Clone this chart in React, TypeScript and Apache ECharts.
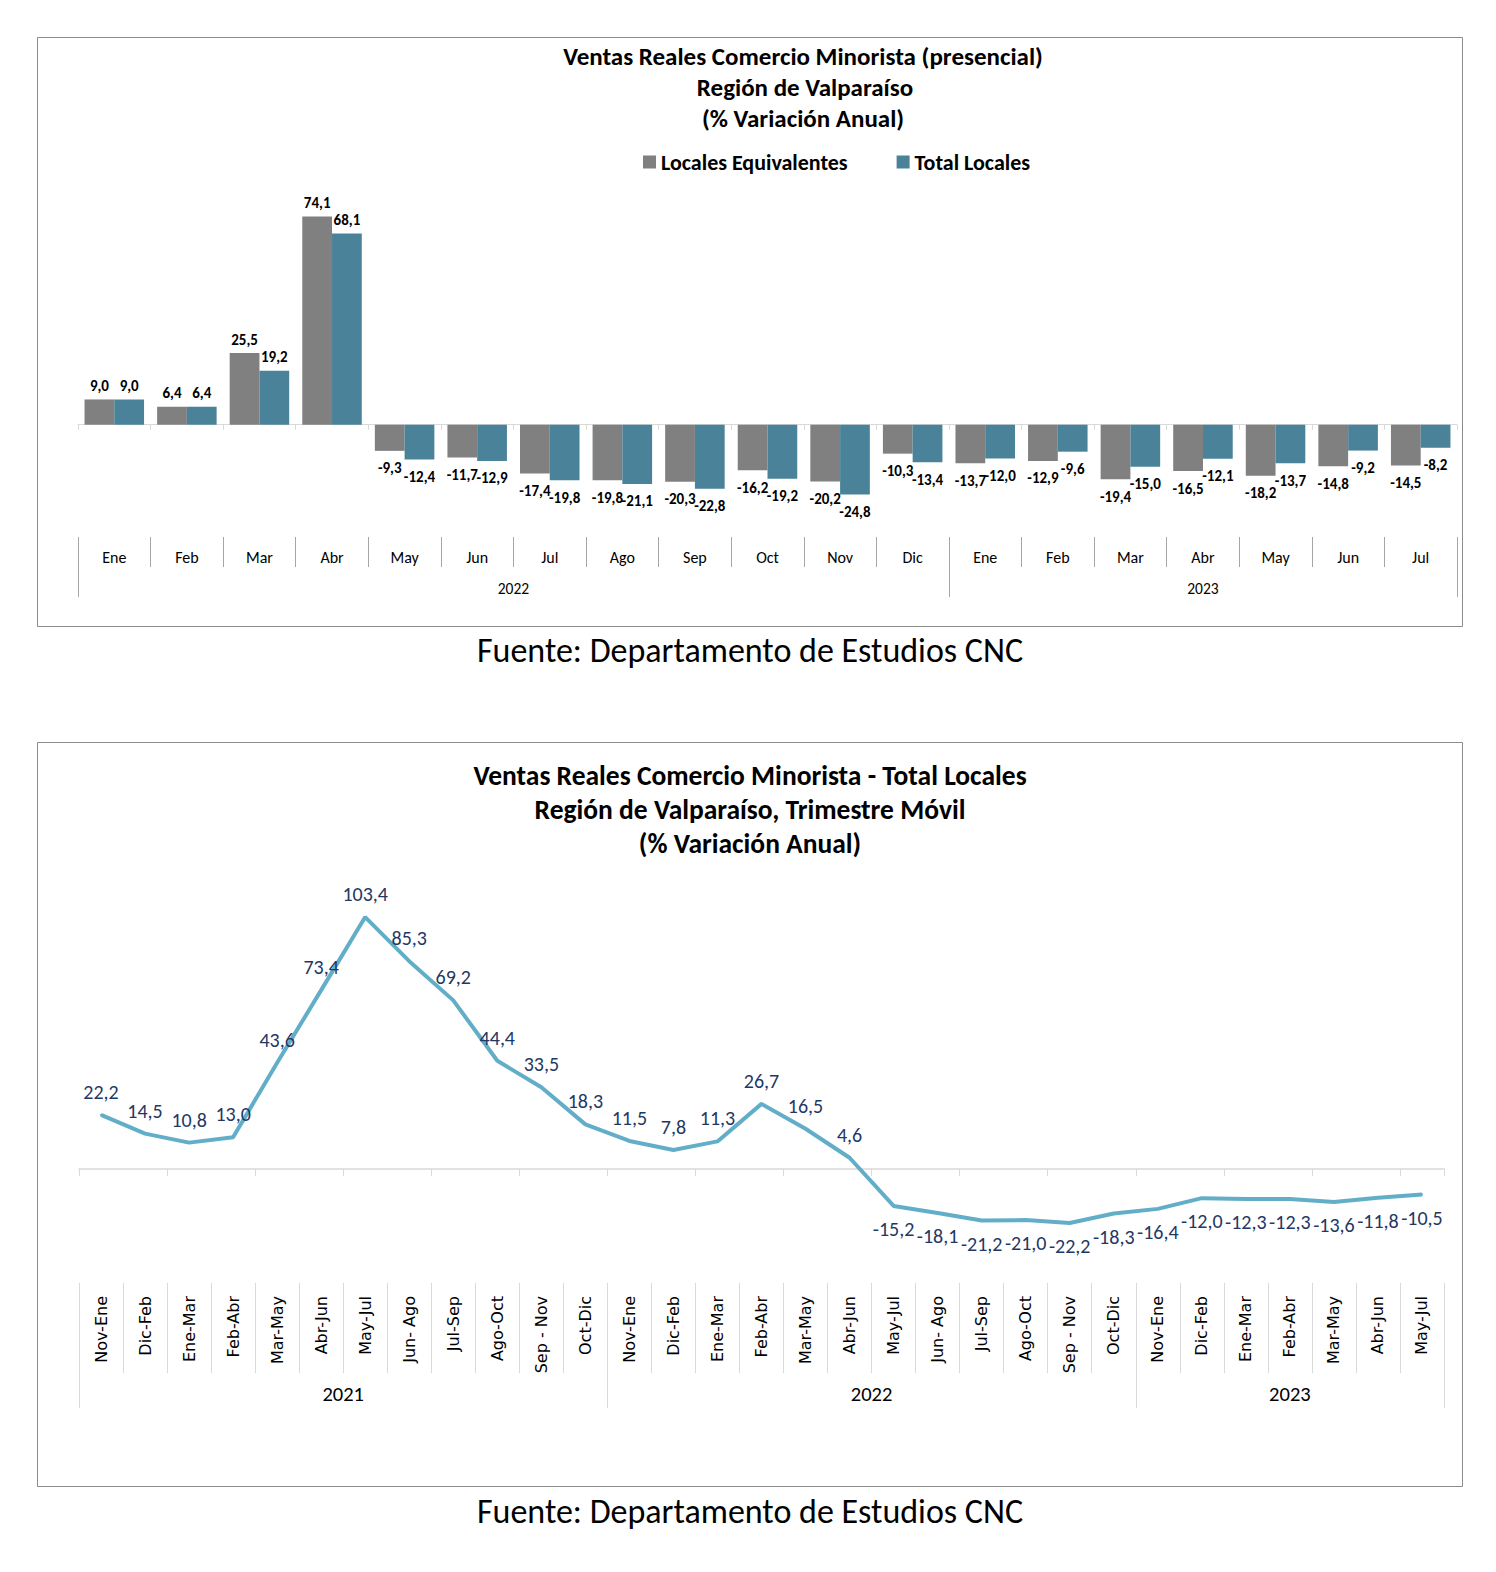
import React, { useEffect, useRef } from "react";
import * as echarts from "echarts";

const months = ["Ene", "Feb", "Mar", "Abr", "May", "Jun", "Jul", "Ago", "Sep", "Oct", "Nov", "Dic", "Ene", "Feb", "Mar", "Abr", "May", "Jun", "Jul"];
const monthYearLabels = ["2022", "2023"];
const monthYearCounts = [12, 7];
const localesEquivalentes = [9.0, 6.4, 25.5, 74.1, -9.3, -11.7, -17.4, -19.8, -20.3, -16.2, -20.2, -10.3, -13.7, -12.9, -19.4, -16.5, -18.2, -14.8, -14.5];
const totalLocales = [9.0, 6.4, 19.2, 68.1, -12.4, -12.9, -19.8, -21.1, -22.8, -19.2, -24.8, -13.4, -12.0, -9.6, -15.0, -12.1, -13.7, -9.2, -8.2];

const trimestres = [
  "Nov-Ene", "Dic-Feb", "Ene-Mar", "Feb-Abr", "Mar-May", "Abr-Jun", "May-Jul", "Jun- Ago", "Jul-Sep", "Ago-Oct", "Sep - Nov", "Oct-Dic",
  "Nov-Ene", "Dic-Feb", "Ene-Mar", "Feb-Abr", "Mar-May", "Abr-Jun", "May-Jul", "Jun- Ago", "Jul-Sep", "Ago-Oct", "Sep - Nov", "Oct-Dic",
  "Nov-Ene", "Dic-Feb", "Ene-Mar", "Feb-Abr", "Mar-May", "Abr-Jun", "May-Jul",
];
const trimestreYearLabels = ["2021", "2022", "2023"];
const trimestreYearCounts = [12, 12, 7];
const totalLocalesMovil = [22.2, 14.5, 10.8, 13.0, 43.6, 73.4, 103.4, 85.3, 69.2, 44.4, 33.5, 18.3, 11.5, 7.8, 11.3, 26.7, 16.5, 4.6, -15.2, -18.1, -21.2, -21.0, -22.2, -18.3, -16.4, -12.0, -12.3, -12.3, -13.6, -11.8, -10.5];

const FONT = "Carlito, Calibri, Lato, sans-serif";
const FONT2 = "Verdana, 'DejaVu Sans', sans-serif";
const fmt = (v: number) => v.toFixed(1).replace(".", ",");

const barData = (arr: number[]) =>
  arr.map((v) => ({ value: v, label: v >= 0 ? { position: "top", distance: 6 } : { position: "bottom", distance: 10 } }));

export default function App() {
  const ref = useRef<HTMLDivElement>(null);
  useEffect(() => {
    document.documentElement.style.overflow = "hidden";
    document.body.style.overflow = "hidden";
    if (!ref.current) return;
    const chart = echarts.init(ref.current, undefined, { renderer: "svg" });
    const t = (x: number, y: number, text: string, font: string) => ({
      type: "text", x, y, style: { text, textAlign: "center", textVerticalAlign: "middle", font, fill: "#000" },
    });
    const baseGraphic: any[] = [
      { type: "rect", shape: { x: 37.5, y: 37.5, width: 1425, height: 589 }, style: { fill: "none", stroke: "#8c8c8c", lineWidth: 1 } },
      { type: "rect", shape: { x: 37.5, y: 742.5, width: 1425, height: 744 }, style: { fill: "none", stroke: "#8c8c8c", lineWidth: 1 } },
      t(803, 56, "Ventas Reales Comercio Minorista (presencial)", `bold 25px ${FONT}`),
      t(805, 87, "Región de Valparaíso", `bold 25px ${FONT}`),
      t(803, 118, "(% Variación Anual)", `bold 25px ${FONT}`),
      t(750, 775, "Ventas Reales Comercio Minorista - Total Locales", `bold 27.5px ${FONT}`),
      t(750, 809, "Región de Valparaíso, Trimestre Móvil", `bold 27.5px ${FONT}`),
      t(750, 843, "(% Variación Anual)", `bold 27.5px ${FONT}`),
      t(750, 650, "Fuente: Departamento de Estudios CNC", `34px ${FONT}`),
      t(750, 1511, "Fuente: Departamento de Estudios CNC", `34px ${FONT}`),
    ];
    const option: any = {
      animation: false,
      backgroundColor: "#fff",
      legend: {
        left: 638,
        top: 146,
        itemWidth: 13,
        itemHeight: 13,
        itemGap: 49,
        icon: "rect",
        data: ["Locales Equivalentes", "Total Locales"],
        textStyle: { fontFamily: FONT, fontWeight: "bold", fontSize: 22, color: "#000" },
      },
      grid: [
        { left: 78, right: 39, top: 200, height: 309 },
        { left: 79, right: 52, top: 901, height: 341 },
      ],
      xAxis: [
        {
          gridIndex: 0, type: "category", data: months,
          axisLine: { onZero: true, lineStyle: { color: "#d9d9d9" } },
          axisTick: { show: true, length: 5, lineStyle: { color: "#d9d9d9" } },
          axisLabel: { show: false },
        },
        {
          gridIndex: 0, type: "category", data: months, position: "bottom", offset: 28,
          axisLine: { show: false, onZero: false },
          axisTick: { show: true, length: 30, lineStyle: { color: "#a6a6a6" } },
          axisLabel: { show: true, interval: 0, margin: 12, fontSize: 16, fontFamily: FONT, color: "#000" },
        },
        {
          gridIndex: 1, type: "category", data: trimestres,
          axisLine: { onZero: true, lineStyle: { color: "#d9d9d9", width: 1.5 } },
          axisTick: { show: true, length: 7, lineStyle: { color: "#d9d9d9" } },
          axisLabel: { show: false },
        },
        {
          gridIndex: 1, type: "category", data: trimestres, position: "bottom", offset: 41,
          axisLine: { show: false, onZero: false },
          axisTick: { show: true, length: 90, lineStyle: { color: "#d9d9d9" } },
          axisLabel: { show: true, interval: 0, rotate: 90, margin: 13, fontSize: 16, fontFamily: FONT2, color: "#000" },
        },
      ],
      yAxis: [
        { gridIndex: 0, type: "value", min: -30, max: 80, show: false, splitLine: { show: false } },
        { gridIndex: 1, type: "value", min: -30, max: 110, show: false, splitLine: { show: false } },
      ],
      series: [
        {
          name: "Locales Equivalentes", type: "bar", xAxisIndex: 0, yAxisIndex: 0,
          data: barData(localesEquivalentes),
          itemStyle: { color: "#808080" },
          barGap: "0%", barCategoryGap: "18%",
          label: { show: true, formatter: (p: any) => fmt(p.value), fontFamily: FONT, fontWeight: "bold", fontSize: 15, color: "#000" },
        },
        {
          name: "Total Locales", type: "bar", xAxisIndex: 0, yAxisIndex: 0,
          data: barData(totalLocales),
          itemStyle: { color: "#4A8399" },
          barGap: "0%", barCategoryGap: "18%",
          label: { show: true, formatter: (p: any) => fmt(p.value), fontFamily: FONT, fontWeight: "bold", fontSize: 15, color: "#000" },
        },
        {
          name: "Trimestre Móvil", type: "line", xAxisIndex: 2, yAxisIndex: 1,
          data: totalLocalesMovil.map((v) => ({ value: v, label: { position: v >= 0 ? "top" : "bottom" } })),
          symbol: "circle", symbolSize: 2,
          itemStyle: { color: "#62AEC8" },
          lineStyle: { color: "#62AEC8", width: 4 },
          label: { show: true, formatter: (p: any) => fmt(p.value), fontFamily: FONT, fontSize: 20, color: "#1F3864", distance: 12 },
        },
      ],
      graphic: baseGraphic,
    };
    chart.setOption(option);

    const extra: any[] = [];
    const addYears = (axisIndex: number, labels: string[], counts: number[], y1: number, y2: number, ly: number, fs: number, color: string) => {
      const c0 = chart.convertToPixel({ xAxisIndex: axisIndex } as any, 0) as number;
      const c1 = chart.convertToPixel({ xAxisIndex: axisIndex } as any, 1) as number;
      const w = c1 - c0;
      let start = 0;
      const bounds: number[] = [c0 - w / 2];
      labels.forEach((lab, i) => {
        const end = start + counts[i];
        const xs = c0 - w / 2 + start * w;
        const xe = c0 - w / 2 + end * w;
        bounds.push(xe);
        extra.push(t((xs + xe) / 2, ly, lab, `${fs}px ${FONT}`));
        start = end;
      });
      bounds.forEach((bx) => {
        const x = Math.round(bx) + 0.5;
        extra.push({ type: "line", shape: { x1: x, y1, x2: x, y2 }, style: { stroke: color, lineWidth: 1 } });
      });
    };
    addYears(1, monthYearLabels, monthYearCounts, 537, 597, 588, 15.5, "#a6a6a6");
    addYears(3, trimestreYearLabels, trimestreYearCounts, 1283, 1408, 1394, 20.5, "#d9d9d9");
    chart.setOption({ graphic: [...baseGraphic, ...extra] });

    return () => chart.dispose();
  }, []);
  return <div ref={ref} style={{ position: "absolute", left: 0, top: 0, width: 1496, height: 1572 }} />;
}
